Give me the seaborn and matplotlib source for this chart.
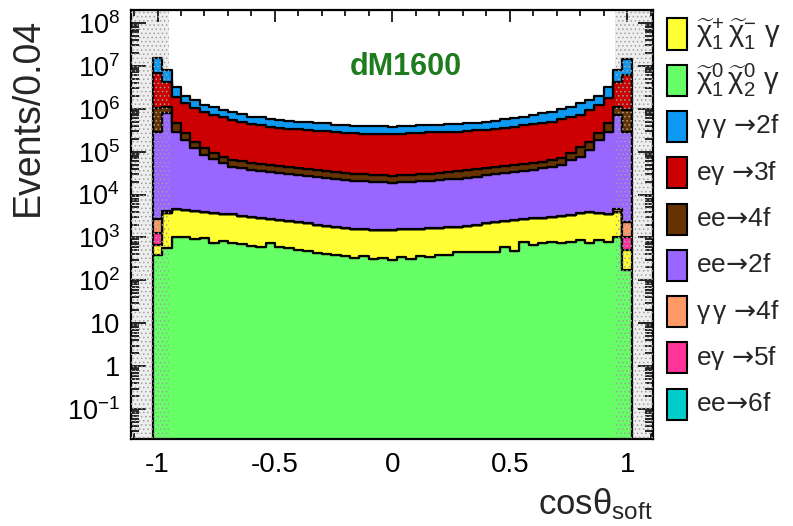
import numpy as np
import pandas as pd
import matplotlib
matplotlib.use("Agg")
import matplotlib.pyplot as plt
import matplotlib.transforms as mtransforms
from matplotlib.patches import Rectangle
from matplotlib.ticker import FixedLocator, FuncFormatter, LogLocator, MultipleLocator, NullFormatter
import seaborn as sns

# ---------------- data (Events / 0.04, bins centred at -1.00 ... 1.00) ----------------
bin_lo, bin_hi, n_bins = -1.02, 1.02, 51

green = [389, 557, 1040, 1040, 903, 953, 752, 824, 728, 701, 631, 588, 752, 588, 557, 508, 490,
         440, 410, 389, 368, 331, 368, 314, 331, 297, 349, 314, 368, 349, 389, 389, 457, 464,
         464, 464, 464, 588, 490, 794, 665, 728, 794, 740, 794, 869, 728, 869, 794, 1000, 174]
yellow = [276, 3093, 3480, 3310, 3287, 3017, 3018, 2686, 2722, 2449, 2409, 2202, 1888, 1962, 1853,
          1812, 1640, 1510, 1430, 1361, 1292, 1239, 1162, 1176, 1159, 1193, 1181, 1256, 1242, 1311,
          1311, 1361, 1323, 1426, 1536, 1666, 1826, 1822, 2060, 1896, 2125, 2182, 2246, 2500, 2536,
          2931, 3242, 2901, 2716, 2970, 334]
pink = [582] + [0] * 49 + [492]
orange = [1393, 540] + [0] * 47 + [550, 1320]
teal = [0] * 51
purple = [2.88e5, 7.77e5, 2.86e5, 1.82e5, 1.15e5, 7.94e4, 6.35e4, 5.07e4, 4.04e4, 3.73e4, 3.42e4,
          3.25e4, 3.08e4, 2.92e4, 2.77e4, 2.62e4, 2.49e4, 2.37e4, 2.25e4, 2.13e4, 2.01e4, 1.90e4,
          1.86e4, 1.81e4, 1.81e4, 1.75e4, 1.81e4, 1.80e4, 1.85e4, 1.89e4, 2.01e4, 2.07e4, 2.12e4,
          2.24e4, 2.36e4, 2.64e4, 2.78e4, 2.93e4, 3.09e4, 3.26e4, 3.44e4, 3.75e4, 4.08e4, 4.55e4,
          6.04e4, 7.23e4, 1.05e5, 1.82e5, 2.87e5, 7.08e5, 2.89e5]
brown = [7.29e5, 3.29e5, 1.66e5, 8.1e4, 5.1e4, 3.56e4, 2.39e4, 2.06e4, 1.99e4, 1.84e4, 1.70e4,
         1.61e4, 1.53e4, 1.45e4, 1.37e4, 1.30e4, 1.23e4, 1.16e4, 1.10e4, 1.04e4, 9.9e3, 9.5e3,
         9.2e3, 8.9e3, 8.9e3, 8.7e3, 8.9e3, 8.9e3, 9.2e3, 9.5e3, 9.9e3, 1.10e4, 1.23e4, 1.29e4,
         1.37e4, 1.30e4, 1.37e4, 1.45e4, 1.53e4, 1.61e4, 1.70e4, 1.84e4, 1.99e4, 2.11e4, 2.75e4,
         5.39e4, 6.1e4, 8.1e4, 1.66e5, 3.97e5, 6.42e5]
red = [5.66e6, 3.15e6, 1.44e6, 1.07e6, 8.8e5, 7.32e5, 6.22e5, 5.76e5, 4.81e5, 4.39e5, 3.86e5,
       3.66e5, 3.31e5, 3.15e5, 2.98e5, 2.90e5, 2.80e5, 2.70e5, 2.62e5, 2.53e5, 2.47e5, 2.41e5,
       2.35e5, 2.29e5, 2.29e5, 2.29e5, 2.29e5, 2.36e5, 2.42e5, 2.49e5, 2.54e5, 2.53e5, 2.56e5,
       2.65e5, 2.75e5, 2.86e5, 2.98e5, 3.15e5, 3.31e5, 3.59e5, 3.86e5, 3.98e5, 4.34e5, 4.96e5,
       5.60e5, 5.83e5, 7.63e5, 9.53e5, 1.29e6, 3.15e6, 5.18e6]
blue = [8.32e6, 3.72e6, 1.36e6, 6.7e5, 5.5e5, 3.69e5, 3.67e5, 2.82e5, 2.79e5, 2.42e5, 2.11e5,
        2.14e5, 1.95e5, 1.84e5, 1.75e5, 1.67e5, 1.63e5, 1.65e5, 1.55e5, 1.42e5, 1.38e5, 1.35e5,
        1.31e5, 1.28e5, 1.28e5, 1.28e5, 1.28e5, 1.31e5, 1.35e5, 1.38e5, 1.42e5, 1.54e5, 1.49e5,
        1.55e5, 1.58e5, 1.71e5, 1.83e5, 2.05e5, 2.18e5, 2.41e5, 2.73e5, 3.24e5, 3.53e5, 4.19e5,
        4.59e5, 6.27e5, 6.67e5, 7.9e5, 1.40e6, 3.72e6, 8.09e6]

# legend order, top to bottom
legend_keys = ["c1c1g", "n1n2g", "gg2f", "eg3f", "ee4f", "ee2f", "gg4f", "eg5f", "ee6f"]
legend_labels = [r"$\mathrm{\widetilde{\chi}^{+}_{1}\,\widetilde{\chi}^{-}_{1}\ \gamma}$",
                 r"$\mathrm{\widetilde{\chi}^{0}_{1}\,\widetilde{\chi}^{0}_{2}\ \gamma}$",
                 r"$\mathrm{\gamma\,\gamma\ }\mathsf{→}\mathrm{2f}$",
                 r"$\mathrm{e\gamma\ }\mathsf{→}\mathrm{3f}$",
                 r"$\mathrm{ee}\mathsf{→}\mathrm{4f}$",
                 r"$\mathrm{ee}\mathsf{→}\mathrm{2f}$",
                 r"$\mathrm{\gamma\,\gamma\ }\mathsf{→}\mathrm{4f}$",
                 r"$\mathrm{e\gamma\ }\mathsf{→}\mathrm{5f}$",
                 r"$\mathrm{ee}\mathsf{→}\mathrm{6f}$"]
legend_sizes = [21, 21, 19, 19, 19, 19, 19, 19, 19]
colors = {"c1c1g": "#ffff33", "n1n2g": "#66ff66", "gg2f": "#0d99f2", "eg3f": "#cc0000",
          "ee4f": "#663300", "ee2f": "#9966ff", "gg4f": "#ff9966", "eg5f": "#ff3399",
          "ee6f": "#00cccc"}
# stacking order, top to bottom (seaborn puts the first hue level on top)
stack_order = ["gg2f", "eg3f", "ee4f", "ee2f", "gg4f", "eg5f", "c1c1g", "n1n2g", "ee6f"]
series = {"c1c1g": yellow, "n1n2g": green, "gg2f": blue, "eg3f": red, "ee4f": brown,
          "ee2f": purple, "gg4f": orange, "eg5f": pink, "ee6f": teal}

edges = np.linspace(bin_lo, bin_hi, n_bins + 1)
centers = 0.5 * (edges[:-1] + edges[1:])
rows = []
for k, vals in series.items():
    for c, v in zip(centers, vals):
        rows.append({"x": c, "w": v, "proc": k})
df = pd.DataFrame(rows)

# ---------------- style ----------------
sns.set_style("ticks")
plt.rcParams["font.family"] = ["Liberation Sans", "DejaVu Sans"]
plt.rcParams["mathtext.fontset"] = "custom"
plt.rcParams["mathtext.rm"] = "Liberation Sans"
plt.rcParams["mathtext.it"] = "Liberation Sans:italic"
plt.rcParams["mathtext.bf"] = "Liberation Sans:bold"
plt.rcParams["mathtext.sf"] = "DejaVu Sans"
plt.rcParams["axes.unicode_minus"] = False
plt.rcParams["hatch.linewidth"] = 0.6

W, H = 793, 526
fig = plt.figure(figsize=(W / 100, H / 100), dpi=100)
ax = fig.add_axes([131 / W, (H - 439) / H, (653 - 131) / W, 429 / H])

# cut regions background
for x0, x1 in [(-1.113, -0.95), (0.95, 1.11)]:
    ax.axvspan(x0, x1, facecolor="#eeeeee", edgecolor="none", zorder=0)

sns.histplot(data=df, x="x", weights="w", hue="proc", hue_order=stack_order,
             palette=colors, multiple="stack", bins=list(edges), element="step",
             fill=True, alpha=1, edgecolor="black", linewidth=1.6, legend=False, ax=ax)

ax.set_yscale("log")
ax.set_xlim(-1.113, 1.11)
ax.set_ylim(0.02, 2e8)

# hatched cut regions on top
for x0, x1 in [(-1.113, -0.95), (0.95, 1.11)]:
    ax.axvspan(x0, x1, facecolor="none", edgecolor="#a0a0a0", hatch="....", lw=0, zorder=5)

# ticks
ax.xaxis.set_major_locator(FixedLocator([-1, -0.5, 0, 0.5, 1]))
ax.xaxis.set_major_formatter(FuncFormatter(lambda v, p: "%g" % v))
ax.xaxis.set_minor_locator(MultipleLocator(0.1))
ax.yaxis.set_major_locator(LogLocator(base=10, numticks=30))
ax.yaxis.set_minor_locator(LogLocator(base=10, subs=np.arange(2, 10), numticks=300))
ax.yaxis.set_minor_formatter(NullFormatter())


def yfmt(v, p):
    e = int(round(np.log10(v)))
    if e == 0:
        return "1"
    if e == 1:
        return "10"
    return r"$\mathregular{10^{%d}}$" % e


ax.yaxis.set_major_formatter(FuncFormatter(yfmt))
ax.tick_params(axis="both", which="both", direction="in", top=True, right=True,
               width=1.2, colors="black")
ax.tick_params(axis="x", which="major", length=8.5, pad=9, labelsize=20)
ax.tick_params(axis="x", which="minor", length=4.5)
ax.tick_params(axis="y", which="major", length=11, pad=8, labelsize=19.5)
ax.tick_params(axis="y", which="minor", length=5.5)
for s in ax.spines.values():
    s.set_linewidth(1.6)
    s.set_color("black")

ax.set_ylabel("Events/0.04", fontsize=27, loc="top")
ax.yaxis.set_label_coords((46 - 131) / 522, (439 - 18) / 429)
ax.set_xlabel(r"$\mathrm{cos\theta_{soft}}$", fontsize=25, loc="right", labelpad=6)

trans = mtransforms.blended_transform_factory(ax.transData, ax.transAxes)
ax.text(0.057, 0.867, "dM1600", transform=trans, ha="center", va="center",
        fontsize=22, fontweight="bold", color="#1e7b1e", zorder=6)

# legend (manual, right of the frame)
for i, (k, lab, fs) in enumerate(zip(legend_keys, legend_labels, legend_sizes)):
    yc = 34 + 46.25 * i
    fig.add_artist(Rectangle((667 / W, (H - yc - 15.5) / H), 20 / W, 31 / H,
                             transform=fig.transFigure, facecolor=colors[k],
                             edgecolor="black", linewidth=1.5))
    fig.text(696 / W, (H - yc) / H, lab, ha="left", va="center", fontsize=fs)

fig.savefig("out.png", dpi=100)
